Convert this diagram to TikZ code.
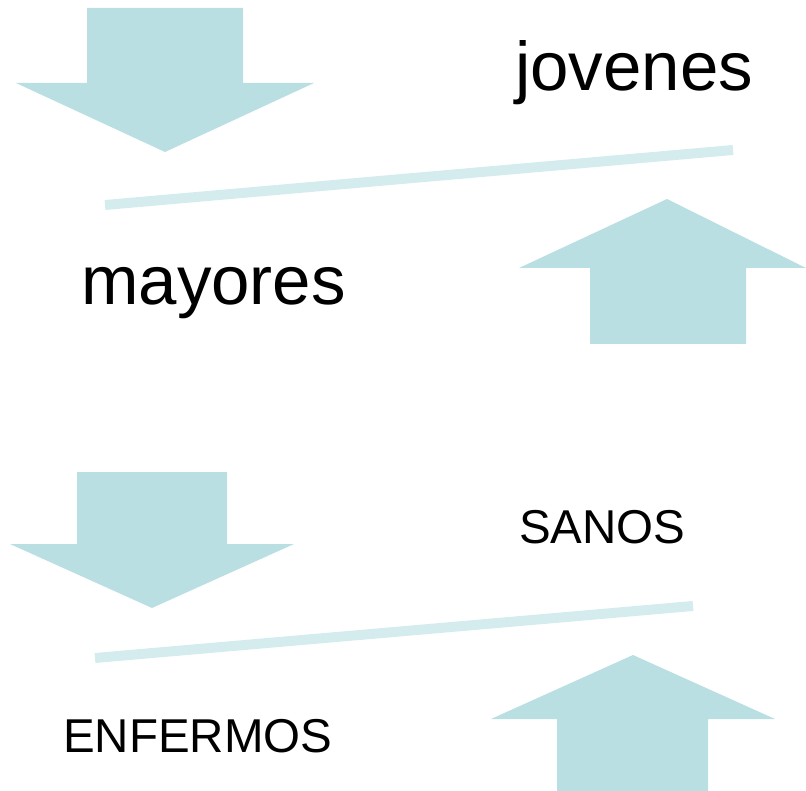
\documentclass[tikz,border=0pt]{standalone}
\usepackage{fontspec}
\setmainfont{Liberation Sans}
\definecolor{arrowc}{HTML}{B9DFE3}
\definecolor{linec}{HTML}{D5ECEE}
\begin{document}
\begin{tikzpicture}[x=1pt,y=-1pt,
  bigarrow/.style={fill=arrowc,draw=none},
  bar/.style={draw=linec,line width=10pt},
  bigtext/.style={inner sep=0pt,anchor=base west,font=\fontsize{69}{80}\selectfont},
  smalltext/.style={inner sep=0pt,anchor=base west,font=\fontsize{47.5}{56}\selectfont}]
\useasboundingbox (0,0) rectangle (806,791);
% arrow 1 down
\fill[bigarrow] (87,8) -- (243,8) -- (243,83) -- (314,83) -- (165,152) -- (16,83) -- (87,83) -- cycle;
\draw[bar] (105,205) -- (733,150);
\node[bigtext] (jov) at (515,91) {jovenes};
% arrow 2 up
\fill[bigarrow] (667,199) -- (806,268) -- (746,268) -- (746,344) -- (590,344) -- (590,268) -- (519,268) -- cycle;
\node[bigtext] (may) at (81,305) {mayores};
% arrow 3 down
\fill[bigarrow] (77,472) -- (227,472) -- (227,544) -- (294,544) -- (152,608) -- (10,544) -- (77,544) -- cycle;
\draw[bar] (95,658) -- (693,606);
\node[smalltext] (san) at (519,543) {SANOS};
% arrow 4 up
\fill[bigarrow] (633,655) -- (775,719) -- (708,719) -- (708,791) -- (557,791) -- (557,719) -- (491,719) -- cycle;
\node[smalltext] (enf) at (63,752) {ENFERMOS};
\end{tikzpicture}
\end{document}
